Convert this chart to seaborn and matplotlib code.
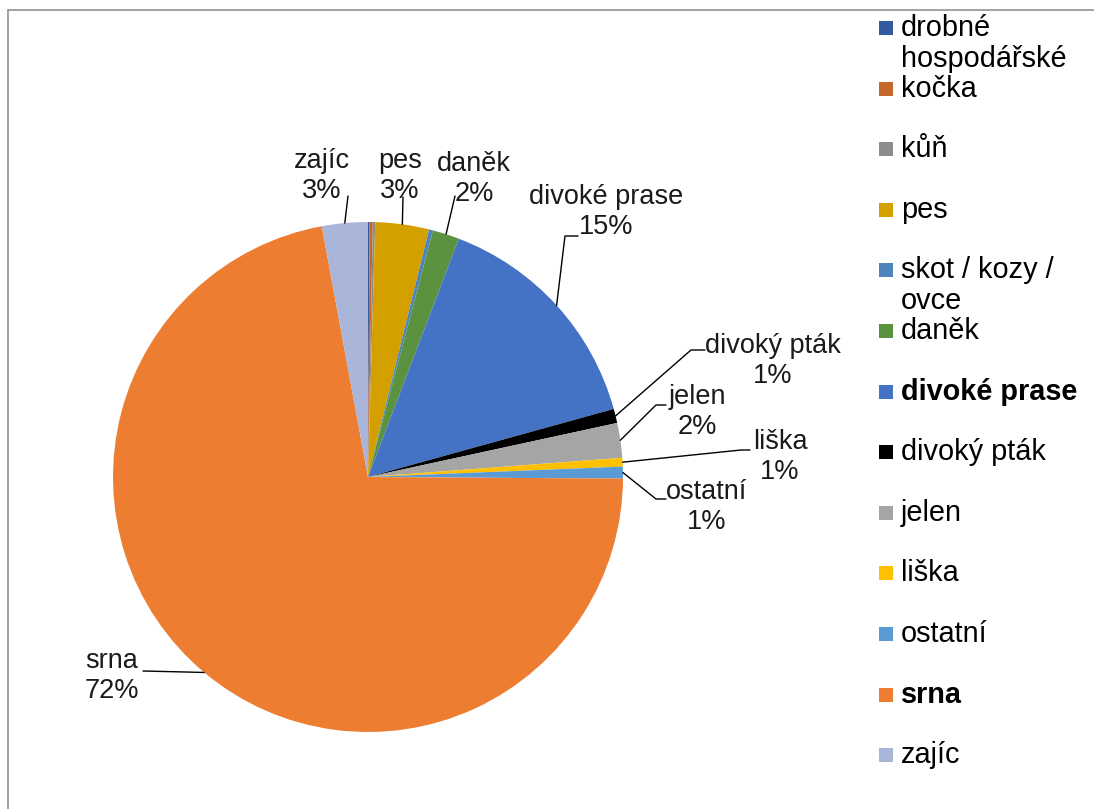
import matplotlib
matplotlib.use("Agg")
import matplotlib.pyplot as plt
import seaborn as sns
import numpy as np
from matplotlib.lines import Line2D
from matplotlib.patches import Rectangle

sns.set_theme(style="white")
plt.rcParams['font.family'] = ['Liberation Sans', 'DejaVu Sans']

# ---- data ----
categories = ["drobné hospodářské", "kočka", "kůň", "pes", "skot / kozy / ovce",
              "daněk", "divoké prase", "divoký pták", "jelen", "liška",
              "ostatní", "srna", "zajíc"]
values = [0.1, 0.2, 0.15, 3.4, 0.25, 1.7, 14.9, 0.9, 2.2, 0.55, 0.75, 72.0, 2.9]
colors = ["#335AA1", "#C5682E", "#8C8C8C", "#D4A000", "#4E83BC", "#5B9240",
          "#4472C4", "#000000", "#A5A5A5", "#FFC000", "#5B9BD5", "#ED7D31", "#A9B6DA"]
legend_labels = ["drobné\nhospodářské", "kočka", "kůň", "pes", "skot / kozy /\novce",
                 "daněk", "divoké prase", "divoký pták", "jelen", "liška",
                 "ostatní", "srna", "zajíc"]
bold_items = ["divoké prase", "srna"]
labeled = ["zajíc", "pes", "daněk", "divoké prase", "divoký pták", "jelen",
           "liška", "ostatní", "srna"]

# ---- layout (pixels) ----
W, H = 1094, 809
cx, cy, R = 368, 477, 255
label_pos = {
    "zajíc": ((322, 176), [(348, 196)]),
    "pes": ((400, 176), [(403, 197)]),
    "daněk": ((474, 179), [(455, 196)]),
    "divoké prase": ((606, 212), [(565, 236), (578, 236)]),
    "divoký pták": ((773, 361), [(691, 350), (705, 350)]),
    "jelen": ((697, 412), [(656, 405), (666, 405)]),
    "liška": ((780, 457), [(741, 450), (750, 450)]),
    "ostatní": ((707, 507), [(656, 499), (666, 499)]),
    "srna": ((112, 676), [(143, 671)]),
}

def p2d(px, py):
    return ((px - cx) / R, (cy - py) / R)

fig = plt.figure(figsize=(W / 100, H / 100), dpi=100)
fig.patch.set_facecolor("white")

# border
fig.add_artist(Line2D([8 / W, 8 / W], [0, 1 - 10 / H], transform=fig.transFigure,
                      color="#9A9A9A", lw=1.3))
fig.add_artist(Line2D([8 / W, 1], [1 - 10 / H, 1 - 10 / H], transform=fig.transFigure,
                      color="#9A9A9A", lw=1.3))

ax = fig.add_axes([(cx - R) / W, 1 - (cy + R) / H, 2 * R / W, 2 * R / H])
wedges, _ = ax.pie(values, colors=colors, startangle=90, counterclock=False,
                   radius=1, wedgeprops=dict(linewidth=0))
ax.set_xlim(-1, 1)
ax.set_ylim(-1, 1)
ax.axis("off")

total = sum(values)
for name, w, v in zip(categories, wedges, values):
    if name not in labeled:
        continue
    mid = np.deg2rad((w.theta1 + w.theta2) / 2)
    edge = (np.cos(mid), np.sin(mid))
    (tx, ty), path = label_pos[name]
    pts = [edge] + [p2d(*p) for p in path]
    xs, ys = zip(*pts)
    ax.add_line(Line2D(xs, ys, color="black", lw=1.0, clip_on=False))
    x, y = p2d(tx, ty)
    ax.text(x, y, f"{name}\n{round(v / total * 100)}%", ha="center", va="center",
            fontsize=19.5, linespacing=1.17, color="#1a1a1a", clip_on=False)

# legend (manual, Excel-like)
for i, (lab, col) in enumerate(zip(legend_labels, colors)):
    yc = 28 + 60.6 * i
    fig.add_artist(Rectangle((879 / W, 1 - (yc + 7) / H), 14 / W, 14 / H,
                             transform=fig.transFigure, facecolor=col, edgecolor="none"))
    weight = "bold" if categories[i] in bold_items else "normal"
    for k, line in enumerate(lab.split("\n")):
        fig.text(901 / W, 1 - (yc + 31 * k) / H, line, ha="left", va="center",
                 fontsize=20.8, fontweight=weight, color="black")

fig.savefig("out.png", dpi=100)
